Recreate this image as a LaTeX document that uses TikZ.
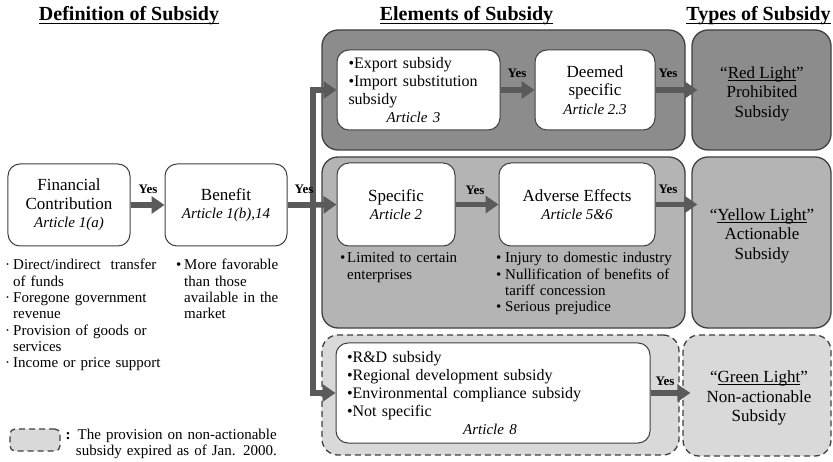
\documentclass[tikz,border=0pt]{standalone}
\usepackage{fontspec}
\setmainfont{Liberation Serif}
\usetikzlibrary{arrows.meta}
\newcommand\fsz[2]{\fontsize{#1bp}{#2bp}\selectfont}
\newsavebox\ulbox
\newcommand\ulx[2][2.5bp]{\sbox\ulbox{#2}\rlap{\rule[-#1]{\wd\ulbox}{0.8bp}}\usebox\ulbox}
\definecolor{gdark}{HTML}{8C8C8C}
\definecolor{gmid}{HTML}{B4B4B4}
\definecolor{glight}{HTML}{D9D9D9}
\definecolor{arrowgray}{HTML}{5A5A5A}
\definecolor{edge}{HTML}{404040}
\begin{document}
\begin{tikzpicture}[x=1bp,y=-1bp,
  grp/.style={draw=edge, line width=1.3bp, rounded corners=16bp, inner sep=0pt},
  dashgrp/.style={grp, dash pattern=on 6bp off 4bp, fill=glight},
  wbox/.style={draw=edge, line width=1bp, fill=white, rounded corners=12bp, inner sep=0pt},
  boxtxt/.style={align=center, font=\fsz{17}{18.5}},
  ttl/.style={font=\bfseries\fsz{20}{22}, anchor=base, inner sep=0pt},
  yes/.style={font=\bfseries\fsz{13}{14}, inner sep=0pt},
  arr/.style={draw=arrowgray, line width=5.5bp, -{Triangle[length=13bp,width=17bp]}},
  lst/.style={anchor=base west, inner sep=0pt, align=left, font=\fsz{15}{16.3}},
  typtxt/.style={align=center, font=\fsz{17}{19.5}, inner sep=0pt}
]
\useasboundingbox (0,0) rectangle (833,462);

% titles
\node[ttl] (t1) at (129,21) {\ulx[3bp]{Definition of Subsidy}};
\node[ttl] (t2) at (466.5,21) {\ulx[3bp]{Elements of Subsidy}};
\node[ttl] (t3) at (758.5,21) {\ulx[3bp]{Types of Subsidy}};

% group boxes
\node[grp, fill=gdark, minimum width=363bp, minimum height=120bp] (g1) at (503.5,90) {};
\node[grp, fill=gmid, minimum width=363bp, minimum height=171bp] (g2) at (503.5,242.5) {};
\node[dashgrp, minimum width=357bp, minimum height=120bp] (g3) at (500.5,395) {};

% types boxes
\node[grp, fill=gdark, minimum width=139bp, minimum height=120bp] (red) at (761.5,90) {};
\node[grp, fill=gmid, minimum width=139bp, minimum height=171bp] (yellow) at (761.5,242.5) {};
\node[dashgrp, minimum width=148bp, minimum height=121bp] (green) at (757,395.5) {};

% definition boxes
\node[wbox, boxtxt, minimum width=122bp, minimum height=82bp] (fc) at (69,205)
  {Financial\\Contribution\\{\fsz{15}{18.5}\itshape Article 1(a)}};
\node[wbox, boxtxt, minimum width=122bp, minimum height=82bp] (ben) at (226,205)
  {Benefit\\{\fsz{15}{18.5}\itshape Article 1(b),14}};

% element boxes
\node[wbox, minimum width=163bp, minimum height=80bp, text width=140bp, align=left, font=\fsz{16}{18}] (exp) at (418.5,90)
  {•Export subsidy\\•Import substitution\\subsidy\\\hspace*{\fill}{\fsz{15}{18}\itshape Article 3}\hspace*{\fill}\hspace{10bp}\null};
\node[wbox, boxtxt, minimum width=120bp, minimum height=80bp] (deem) at (595,90)
  {Deemed\\specific\\{\fsz{15}{18.5}\itshape Article 2.3}};
\node[wbox, boxtxt, minimum width=118bp, minimum height=83bp] (spec) at (396,204.5)
  {Specific\\{\fsz{15}{18.5}\itshape Article 2}};
\node[wbox, boxtxt, minimum width=156bp, minimum height=83bp] (adv) at (577,204.5)
  {Adverse Effects\\{\fsz{15}{18.5}\itshape Article 5\&6}};
\node[wbox, minimum width=314bp, minimum height=100bp, text width=292bp, align=left, font=\fsz{16}{17.8}] (rd) at (493,393)
  {•R\&D subsidy\\•Regional development subsidy\\•Environmental compliance subsidy\\•Not specific\\\hspace*{\fill}{\fsz{15}{17.8}\itshape Article 8}\hspace*{\fill}\hspace{6bp}\null};

% type texts
\node[typtxt] (redt) at (762,93.5) {“\ulx{Red Light}”\\Prohibited\\Subsidy};
\node[typtxt] (yelt) at (762,235.5) {“\ulx{Yellow Light}”\\Actionable\\Subsidy};
\node[typtxt] (grnt) at (759,398) {“\ulx{Green Light}”\\Non-actionable\\Subsidy};

% connectors
\coordinate (split) at (313,205);
\draw[arr] (fc) -- (ben);
\draw[draw=arrowgray, line width=5.5bp] (ben.east) -- (split);
\draw[arr] (split) |- (exp.west);
\draw[arr] (split) -- (spec.west);
\draw[arr] (split) |- (rd.west);
\draw[arr] (exp) -- (deem);
\draw[arr, shorten >=-6bp] (deem.east) -- (red.west);
\draw[arr] (spec) -- (adv);
\draw[arr, shorten >=-6bp] (adv.east) -- (adv.east -| yellow.west);
\draw[arr, shorten >=-8bp] (rd.east) -- (rd.east -| green.west);

% yes labels
\node[yes] (y1) at (148,189) {Yes};
\node[yes] (y2) at (304,189) {Yes};
\node[yes] (y3) at (517,73) {Yes};
\node[yes] (y4) at (668,73) {Yes};
\node[yes] (y5) at (475,190) {Yes};
\node[yes] (y6) at (668,189) {Yes};
\node[yes] (y7) at (665,381) {Yes};

% lists
\node[lst, text width=165bp] (deflist) at (5,270)
  {\makebox[8bp][l]{·}Direct/indirect\ \ transfer\\
   \hspace*{8bp}of funds\\
   \makebox[8bp][l]{·}Foregone government\\
   \hspace*{8bp}revenue\\
   \makebox[8bp][l]{·}Provision of goods or\\
   \hspace*{8bp}services\\
   \makebox[8bp][l]{·}Income or price support};
\node[lst, text width=120bp] (benlist) at (176,270)
  {\makebox[8bp][l]{•}More favorable\\
   \hspace*{8bp}than those\\
   \hspace*{8bp}available\ in the\\
   \hspace*{8bp}market};
\node[lst, text width=130bp] (speclist) at (340,263)
  {\makebox[7bp][l]{•}Limited to certain\\
   \hspace*{7bp}enterprises};
\node[lst, text width=185bp] (advlist) at (496,263)
  {\makebox[9bp][l]{•}Injury to domestic industry\\
   \makebox[9bp][l]{•}Nullification\ of benefits of\\
   \hspace*{9bp}tariff concession\\
   \makebox[9bp][l]{•}Serious prejudice};

% legend
\node[draw=edge, line width=1.3bp, dash pattern=on 6bp off 4bp, fill=glight, rounded corners=5bp,
  minimum width=50bp, minimum height=22bp, inner sep=0pt] (leg) at (35,440) {};
\node[font=\bfseries\fsz{15}{15}, inner sep=0pt] (colon) at (68,436) {:};
\node[anchor=base east, inner sep=0pt, text width=205bp, align=right, font=\fsz{15}{16}] (legt) at (277,439)
  {The provision on non-actionable\\subsidy expired as of Jan. 2000.};
\end{tikzpicture}
\end{document}
